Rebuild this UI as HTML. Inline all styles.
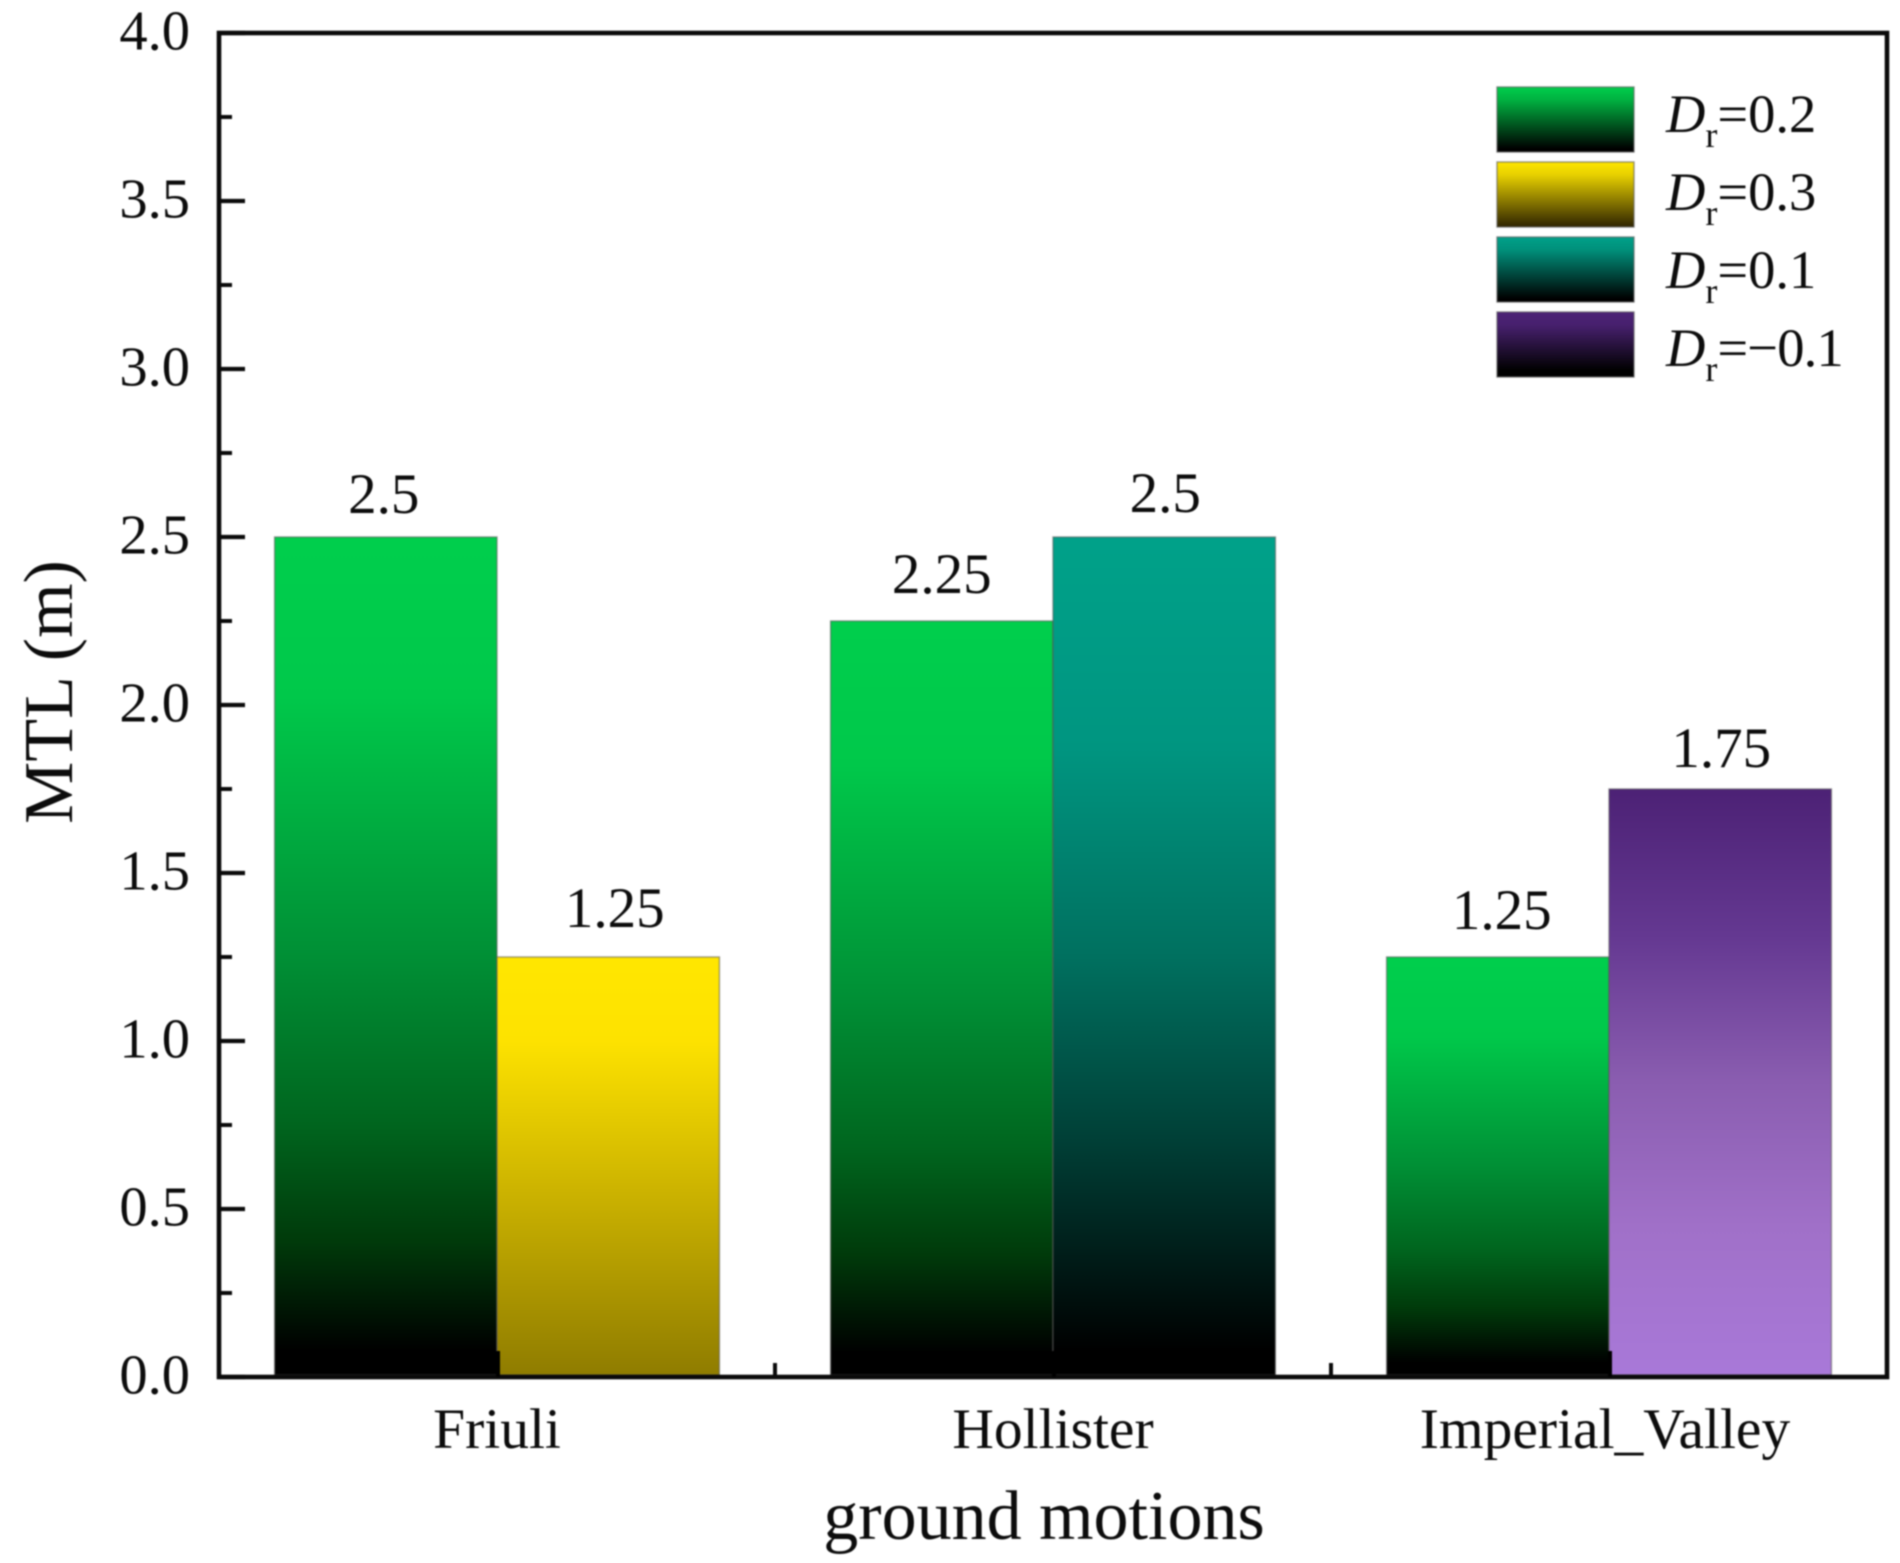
<!DOCTYPE html>
<html lang="en">
<head>
<meta charset="utf-8">
<title>MTL by ground motion</title>
<style>
  html, body { margin: 0; padding: 0; background: #fff; }
  body { width: 1900px; height: 1563px; overflow: hidden; }
  svg { display: block; filter: blur(0.8px); }
  text { font-family: "Liberation Serif", "Times New Roman", serif; fill: #0c0c0c; }
</style>
</head>
<body>
<svg id="chart" xmlns="http://www.w3.org/2000/svg" width="1900" height="1563" viewBox="0 0 1900 1563">
  <defs>
    <linearGradient id="bar-green" x1="0" y1="0" x2="0" y2="1">
      <stop offset="0" stop-color="#00ce4c"/><stop offset="0.19" stop-color="#00c84a"/>
      <stop offset="0.5" stop-color="#008f35"/><stop offset="0.7" stop-color="#00651e"/>
      <stop offset="0.84" stop-color="#003a0a"/><stop offset="0.97" stop-color="#000"/><stop offset="1" stop-color="#000"/>
    </linearGradient>
    <linearGradient id="bar-yellow" x1="0" y1="0" x2="0" y2="1">
      <stop offset="0" stop-color="#ffe600"/><stop offset="0.2" stop-color="#fde200"/>
      <stop offset="0.55" stop-color="#cdb400"/><stop offset="1" stop-color="#8f7c00"/>
    </linearGradient>
    <linearGradient id="bar-teal" x1="0" y1="0" x2="0" y2="1">
      <stop offset="0" stop-color="#00a189"/><stop offset="0.25" stop-color="#009580"/>
      <stop offset="0.5" stop-color="#00705f"/><stop offset="0.72" stop-color="#003f36"/>
      <stop offset="0.97" stop-color="#000"/><stop offset="1" stop-color="#000"/>
    </linearGradient>
    <linearGradient id="bar-purple" x1="0" y1="0" x2="0" y2="1">
      <stop offset="0" stop-color="#4c2175"/><stop offset="0.25" stop-color="#643891"/>
      <stop offset="0.5" stop-color="#8a5db0"/><stop offset="0.75" stop-color="#a070c8"/>
      <stop offset="1" stop-color="#a878d8"/>
    </linearGradient>
    <linearGradient id="swatch-green" x1="0" y1="0" x2="0" y2="1">
      <stop offset="0" stop-color="#00ce4c"/><stop offset="0.2" stop-color="#00b040"/><stop offset="0.95" stop-color="#000"/>
    </linearGradient>
    <linearGradient id="swatch-yellow" x1="0" y1="0" x2="0" y2="1">
      <stop offset="0" stop-color="#ffe600"/><stop offset="0.2" stop-color="#e6cf00"/><stop offset="1" stop-color="#2e2300"/>
    </linearGradient>
    <linearGradient id="swatch-teal" x1="0" y1="0" x2="0" y2="1">
      <stop offset="0" stop-color="#00a189"/><stop offset="0.2" stop-color="#008f7a"/><stop offset="0.95" stop-color="#000"/>
    </linearGradient>
    <linearGradient id="swatch-purple" x1="0" y1="0" x2="0" y2="1">
      <stop offset="0" stop-color="#4c2175"/><stop offset="0.2" stop-color="#47206e"/><stop offset="0.9" stop-color="#000"/>
    </linearGradient>
  </defs>
  <g id="bars"></g>
  <g id="value-labels"></g>
  <g id="axes"></g>
  <g id="legend"></g>
  <text transform="translate(72,692) rotate(-90)" text-anchor="middle" font-size="70">MTL (m)</text>
  <text x="1044" y="1539" text-anchor="middle" font-size="70">ground motions</text>
</svg>
<script>
// Chart data
const categories = ['Friuli', 'Hollister', 'Imperial_Valley'];
const seriesNames = ['0.2', '0.3', '0.1', '\u22120.1'];
const seriesDr02 = [2.5, 2.25, 1.25];
const seriesDr03 = [1.25, null, null];
const seriesDr01 = [null, 2.5, null];
const seriesDrNeg01 = [null, null, 1.75];
const yTickValues = [0, 0.5, 1, 1.5, 2, 2.5, 3, 3.5, 4];
const yMinorTickValues = [0.25, 0.75, 1.25, 1.75, 2.25, 2.75, 3.25, 3.75];

const allSeries = [seriesDr02, seriesDr03, seriesDr01, seriesDrNeg01];
const seriesKeys = ['green', 'yellow', 'teal', 'purple'];

const NS = 'http://www.w3.org/2000/svg';
const plot = { left: 219, right: 1887, top: 33, bottom: 1377 };
const yMax = 4;
const bandWidth = (plot.right - plot.left) / categories.length;
const barWidth = bandWidth * 0.4;

function yScale(v) {
  return plot.bottom - (v / yMax) * (plot.bottom - plot.top);
}
function xBand(i) {
  return plot.left + bandWidth * (i + 0.5);
}
function make(tag, parent, attrs, text) {
  const el = document.createElementNS(NS, tag);
  for (const k in attrs) el.setAttribute(k, attrs[k]);
  if (text !== undefined) el.textContent = text;
  parent.appendChild(el);
  return el;
}
// Hand placement of the value labels relative to their bar, in px
function labelNudge(c, si) {
  const key = c + ':' + si;
  const nudges = { '0:0': [-3, 0], '0:1': [5.5, -6], '1:0': [-1, -4], '1:2': [0, -1], '2:0': [3, -4], '2:3': [0, 2] };
  return nudges[key] || [0, 0];
}

const barsG = document.getElementById('bars');
const labelsG = document.getElementById('value-labels');
const axesG = document.getElementById('axes');
const legendG = document.getElementById('legend');

// Bars: each category places its non-empty series side by side
categories.forEach(function (cat, c) {
  const present = [];
  allSeries.forEach(function (s, si) {
    if (s[c] !== null && s[c] !== undefined) present.push(si);
  });
  present.forEach(function (si, pos) {
    const v = allSeries[si][c];
    const x = xBand(c) + (pos - present.length / 2) * barWidth;
    const top = yScale(v);
    const bar = make('rect', barsG, {
      x: x, y: top, width: barWidth, height: yScale(0) - top - 2,
      fill: 'url(#bar-' + seriesKeys[si] + ')',
      stroke: 'rgba(90,90,90,0.55)', 'stroke-width': 1.5
    });
    
    
    const n = labelNudge(c, si);
    const label = make('text', labelsG, {
      x: x + barWidth / 2 + 1 + n[0], y: top - 24 + n[1], 'text-anchor': 'middle', 'font-size': 57
    }, String(v));
    
    
  });
});

// Axis frame
const axisStyle = { stroke: '#0a0a0a', 'stroke-width': 4.6, fill: 'none' };
const frame = make('rect', axesG, Object.assign({
  x: plot.left, y: plot.top, width: plot.right - plot.left, height: plot.bottom - plot.top
}, axisStyle));



// Y ticks
yTickValues.forEach(function (v) {
  const y = yScale(v);
  const tick = make('line', axesG, { x1: plot.left, x2: plot.left + 26, y1: y, y2: y, stroke: '#0a0a0a', 'stroke-width': 4.2 });
  
  
  const label = make('text', axesG, { x: 190, y: y + 16.5, 'text-anchor': 'end', 'font-size': 56.5 }, v.toFixed(1));
  
  
});
yMinorTickValues.forEach(function (v) {
  const y = yScale(v);
  const tick = make('line', axesG, { x1: plot.left, x2: plot.left + 13, y1: y, y2: y, stroke: '#0a0a0a', 'stroke-width': 4 });
  
  
});

// X ticks and category labels
categories.forEach(function (cat, c) {
  const x = xBand(c);
  const tick = make('line', axesG, { x1: x + 1, x2: x + 1, y1: plot.bottom, y2: plot.bottom - 26, stroke: '#000', 'stroke-width': 4 });
  
  
  // The last label sits a little left of its tick in the source figure
  const labelX = c === categories.length - 1 ? x - 4 : x;
  const label = make('text', axesG, { x: labelX, y: 1448, 'text-anchor': 'middle', 'font-size': 57.5 }, cat);
  
  
  if (c < categories.length - 1) {
    const mx = plot.left + bandWidth * (c + 1);
    const minor = make('line', axesG, { x1: mx, x2: mx, y1: plot.bottom, y2: plot.bottom - 14, stroke: '#0a0a0a', 'stroke-width': 4 });
    
    
  }
});

// Legend
seriesNames.forEach(function (name, i) {
  const rowTop = 87 + i * 75;
  const swatch = make('rect', legendG, {
    x: 1497, y: rowTop, width: 137, height: 65,
    fill: 'url(#swatch-' + seriesKeys[i] + ')',
    stroke: 'rgba(90,90,90,0.6)', 'stroke-width': 1.5
  });
  
  
  const entry = make('text', legendG, { x: 1666, y: 132 + i * 78, 'font-size': 54.5 });
  
  
  make('tspan', entry, { 'font-style': 'italic' }, 'D');
  make('tspan', entry, { 'font-size': 36, dy: 15 }, 'r');
  const valueSpan = make('tspan', entry, { dy: -15 }, '=' + name);
  if (name.length > 3) valueSpan.setAttribute('letter-spacing', '-0.8');
});
</script>
</body>
</html>
